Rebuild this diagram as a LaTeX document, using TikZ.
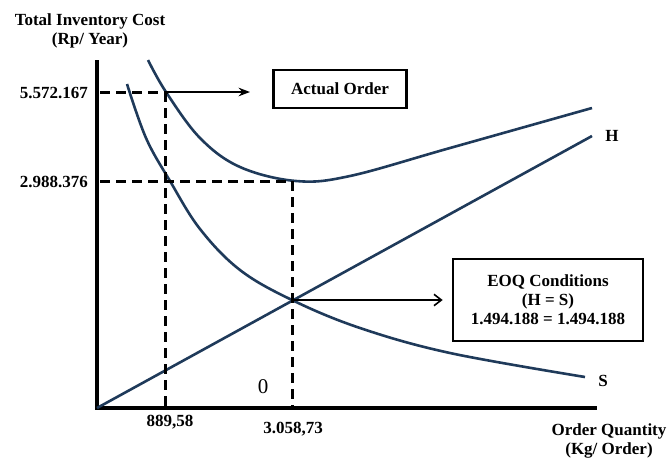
\documentclass[tikz,border=0pt]{standalone}
\usepackage{fontspec}
\setmainfont{Liberation Serif}
\usetikzlibrary{arrows.meta,positioning}

\begin{document}
\begin{tikzpicture}[
x=1pt, y=-1pt,
lbl/.style={font=\fontsize{17}{19}\selectfont\bfseries, inner sep=1pt, align=center},
infobox/.style={draw, line width=2.6pt, align=center, inner sep=4pt, font=\fontsize{17}{19}\selectfont\bfseries},
axis/.style={line width=3.2pt},
guide/.style={dash pattern=on 10pt off 6pt, line width=3pt},
curve/.style={line width=2.6pt, color=navy},
arrow/.style={-{Stealth[length=4mm, width=3mm]}, line width=2.4pt},
thinarrow/.style={-{Straight Barb[length=2.6mm, width=4mm]}, line width=1.6pt}
]
\definecolor{navy}{HTML}{1F3A5A}
\useasboundingbox (0,0) rectangle (671,459);

% axes
\coordinate (o) at (97,408);
\coordinate (ytop) at (97,60);
\coordinate (xend) at (597,408);
\draw[axis] (ytop) -- (o) -- (xend);

% axis titles
\node[lbl] (ytitle) at (90,31) {Total Inventory Cost\\(Rp/ Year)};
\node[lbl] (xtitle) at (609,441) {Order Quantity\\(Kg/ Order)};

% curves
\coordinate (hend) at (592,136);
\draw[curve] (o) -- (hend);
\node[lbl] (hlab) at (612,136) {H};
\draw[curve] plot[smooth, tension=0.6] coordinates {(127,84) (146,138) (170,181) (200,229) (240,270) (292,300) (360,328) (450,353) (585,377)};
\node[lbl] (slab) at (603,381) {S};
\draw[curve] plot[smooth, tension=0.6] coordinates {(148,60) (166,92) (200,138) (240,167) (296,181) (350,176) (450,148) (592,108)};

% guide lines
\coordinate (a1) at (100,92);
\coordinate (a2) at (168,92);
\coordinate (b1) at (165,92);
\coordinate (b2) at (165,406);
\coordinate (c1) at (100,181);
\coordinate (c2) at (292,181);
\coordinate (d2) at (292,406);
\draw[guide] (a1) -- (a2);
\draw[guide] (b1) -- (b2);
\draw[guide] (c1) -- (c2);
\draw[guide] (c2) -- (d2);

% value labels
\node[lbl, anchor=east] (y1) at (89,93) {5.572.167};
\node[lbl, anchor=east] (y2) at (89,182) {2.988.376};
\node[lbl] (x1) at (170,422) {889,58};
\node[lbl] (x2) at (293,429) {3.058,73};
\node[font=\fontsize{21}{22}\selectfont] (zero) at (263,387) {0};

% boxes
\node[infobox, minimum width=133pt, minimum height=38pt] (actual) at (340,89) {Actual Order};
\node[infobox, minimum width=190pt, minimum height=82pt] (eoq) at (548,300) {EOQ Conditions\\(H = S)\\1.494.188 = 1.494.188};

\coordinate (eq) at (292,300);
\coordinate (atip) at (250,92);
\draw[arrow] (a2) -- (atip);
\draw[thinarrow] (eq) -- ([xshift=-9pt]eoq.west);
\end{tikzpicture}
\end{document}
